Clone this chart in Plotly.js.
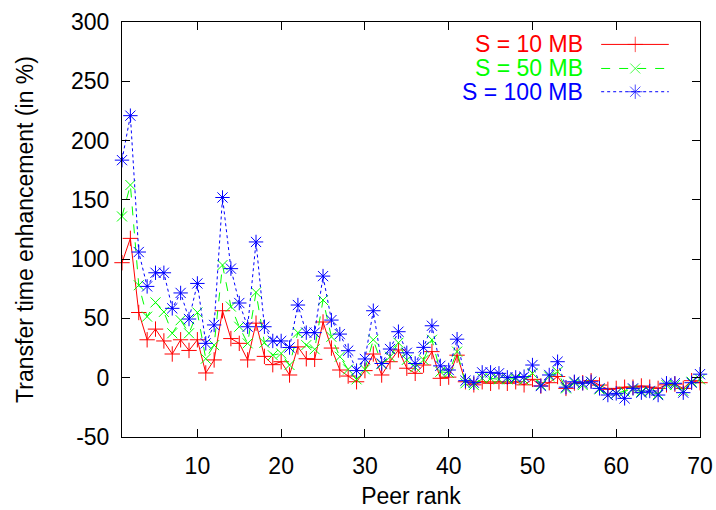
<!DOCTYPE html>
<html>
<head>
<meta charset="utf-8">
<script src="https://cdn.plot.ly/plotly-3.0.1.min.js"></script>
<style>html,body{margin:0;padding:0;background:#fff;}#chart{width:716px;height:510px;}</style>
</head>
<body>
<div id="chart"></div>
<script>
const peerRank = Array.from({length: 70}, (_, i) => i + 1);

const s10 = [97, 117.5, 55, 32, 41, 31, 20, 32, 23, 32,
  4, 15, 56.5, 33, 29, 15, 46, 18, 11, 13.5,
  2.3, 26, 16, 15.5, 47, 25, 6.5, 1.4, -3.4, 6,
  20, 2.3, 13.5, 23.4, 8, 3.7, 10.7, 22, -0.5, 0.5,
  19, -3.4, -6, -3.4, -4.7, -3.4, -4.7, -3.4, -6, -1.4,
  -7, -4.2, 1, -9, -4.5, -4.2, -2.5, -6.2, -9.8, -9,
  -8, -8, -7, -8, -9, -6, -5.4, -9, -2.5, -4.2];

const s50 = [136, 162.5, 78, 51.5, 63.5, 55.5, 37.5, 48.5, 37.5, 55,
  16, 27.5, 95, 60, 43, 29, 72, 29.5, 19, 20.5,
  10.7, 38, 27.5, 24, 65.5, 34.5, 17.7, 7, -1.4, 7,
  32, 11.5, 17.7, 29.5, 15, 8.8, 15, 32, 5, 4.2,
  22, -4.7, -6.2, -0.5, -0.5, -1.4, -1.4, -0.5, -2, 3.7,
  -6.2, 1, 5, -9, -4.2, -6.2, -3.4, -9.8, -14.6, -13.2,
  -11.8, -9.8, -11.8, -11.8, -13.8, -6.2, -6.2, -11, -3.4, -1.4];

const s100 = [183.5, 221, 106, 77, 88.5, 88.5, 58.5, 71.5, 49.5, 79.5,
  29, 44.5, 152, 92, 63, 43, 114.5, 43, 31, 31,
  25.5, 61.3, 38, 38, 85.7, 48.6, 36.8, 22.8, 6, 15.8,
  56.5, 12, 24.2, 38.8, 21, 12, 25.6, 43.8, 10, 6.5,
  32.5, -2.5, -4.2, 4.5, 4.5, 3.7, 0.3, 0.3, 0.9, 10.7,
  -7, 2.3, 13.5, -8, -3.4, -4.7, -3.4, -9, -14.6, -13.2,
  -17.4, -9, -12.6, -11.2, -14.6, -4.7, -4.7, -12.6, -4.2, 3];

const seriesNames = ["S = 10 MB", "S = 50 MB", "S = 100 MB"];
const xTicks = [10, 20, 30, 40, 50, 60, 70];
const yTicks = [-50, 0, 50, 100, 150, 200, 250, 300];

const colors = ["#ff0000", "#00ff00", "#0000ff"];
const dashes = ["solid", "dash", "dot"];
const symbols = ["cross-thin-open", "x-thin-open", "asterisk-open"];
const sizes = [11, 10, 12];
const allSeries = [s10, s50, s100];

const traces = allSeries.map((ys, i) => ({
  x: peerRank, y: ys, type: "scatter", mode: "lines+markers",
  name: seriesNames[i], showlegend: false, cliponaxis: false,
  line: {color: colors[i], width: 1, dash: dashes[i]},
  marker: {symbol: symbols[i], size: sizes[i], color: colors[i], line: {color: colors[i], width: 1}}
}));

// legend samples (gnuplot-style: text left, sample right)
const legY = [0.946, 0.888, 0.832];
const sampleX = [0.829, 0.888, 0.946];
allSeries.forEach((ys, i) => {
  traces.push({
    x: sampleX, y: [legY[i], legY[i], legY[i]], xaxis: "x2", yaxis: "y2",
    type: "scatter", mode: "lines+markers", showlegend: false, hoverinfo: "skip",
    line: {color: colors[i], width: 1, dash: dashes[i]},
    marker: {symbol: symbols[i], size: [0, sizes[i], 0], color: colors[i], line: {color: colors[i], width: 1}}
  });
});

const font = {family: "Liberation Sans, Arial, sans-serif", size: 23, color: "#000"};

const layout = {
  width: 716, height: 510,
  margin: {l: 122, r: 16, t: 22, b: 73},
  paper_bgcolor: "#fff", plot_bgcolor: "#fff",
  font: font,
  showlegend: false,
  xaxis: {
    range: [1, 70], tickvals: xTicks, ticktext: xTicks.map(String),
    ticks: "inside", ticklen: 8, tickwidth: 1, tickcolor: "#000",
    showline: true, linecolor: "#000", linewidth: 1, mirror: "ticks",
    showgrid: false, zeroline: false, ticklabelstandoff: 8,
    title: {text: "Peer rank", font: font, standoff: 10}
  },
  yaxis: {
    range: [-50, 300], tickvals: yTicks, ticktext: yTicks.map(String),
    ticks: "inside", ticklen: 8, tickwidth: 1, tickcolor: "#000",
    showline: true, linecolor: "#000", linewidth: 1, mirror: "ticks",
    showgrid: false, zeroline: false, ticklabelstandoff: 7,
    title: {text: "Transfer time enhancement (in %)", font: font, standoff: 30}
  },
  xaxis2: {overlaying: "x", range: [0, 1], visible: false, fixedrange: true},
  yaxis2: {overlaying: "y", range: [0, 1], visible: false, fixedrange: true},
  annotations: seriesNames.map((t, i) => ({
    text: t, xref: "paper", yref: "paper", x: 0.801, y: legY[i],
    xanchor: "right", yanchor: "middle", showarrow: false,
    font: {family: font.family, size: 23, color: colors[i]}
  }))
};

Plotly.newPlot("chart", traces, layout, {displayModeBar: false, staticPlot: true});
</script>
</body>
</html>
